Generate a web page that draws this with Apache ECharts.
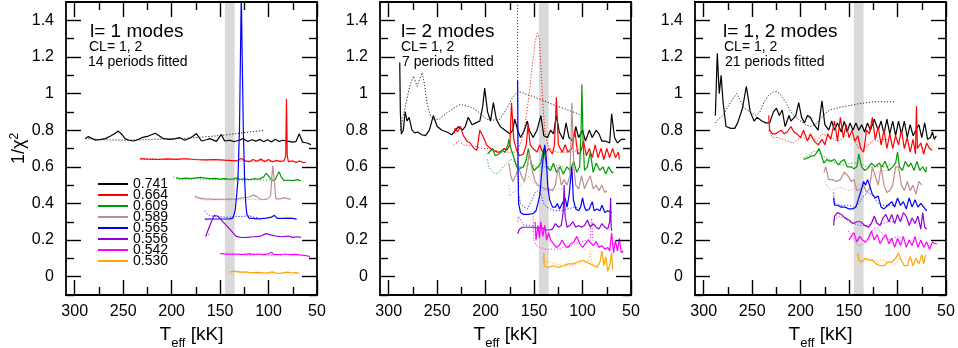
<!DOCTYPE html>
<html><head><meta charset="utf-8">
<script src="https://cdn.jsdelivr.net/npm/echarts@6/dist/echarts.min.js"></script>
<style>html,body{margin:0;padding:0;background:#fff}#c{width:958px;height:348px}</style>
</head><body><div id="c"></div>
<script>
// ---------- labels / ticks ----------
const masses = ['0.741','0.664','0.609','0.589','0.565','0.556','0.542','0.530'];
const lineColors = ['#000000','#ff0000','#009a00','#bc8f8f','#0000ff','#9400d3','#ff00ff','#ffa500'];
const xTicks = [300,250,200,150,100,50];
const xMinorTicks = [275,225,175,125,75];
const yTicks = [0,0.2,0.4,0.6,0.8,1,1.2,1.4];
const yMinorTicks = [-0.1,0.1,0.3,0.5,0.7,0.9,1.1,1.3];
const bandRange = [135,145];
const panelTitles = ['l= 1 modes','l= 2 modes','l= 1, 2 modes'];
const clLabel = 'CL= 1, 2';
const fittedLabels = ['14 periods fitted','7 periods fitted','21 periods fitted'];

// ---------- panel 1 : l = 1 ----------
const l1_741 = [[289,0.754],[286,0.765],[284,0.772],[279,0.746],[274,0.748],[268.5,0.754],[263,0.768],[259,0.78],[255,0.795],[251,0.775],[248,0.754],[244,0.745],[239.4,0.741],[235,0.748],[230.8,0.759],[224,0.768],[217,0.783],[213,0.77],[208.6,0.754],[201.7,0.75],[196,0.754],[191.5,0.759],[186.3,0.745],[180,0.76],[174.4,0.781],[169.2,0.741],[164,0.748],[160.7,0.754],[153.8,0.739],[148.7,0.777],[145.3,0.741],[140,0.745],[136,0.738],[133.3,0.741],[130,0.745],[126.5,0.754],[121.4,0.738],[117,0.748],[113,0.74],[109,0.75],[105,0.737],[101,0.748],[97,0.736],[93,0.75],[89,0.738],[85.4,0.745],[80.3,0.74],[75,0.735],[71.7,0.738],[68.3,0.78],[65,0.735],[60,0.73],[56.3,0.72]];
const l1_741d = [[289,0.754],[270,0.748],[250,0.745],[230,0.748],[210,0.752],[191.5,0.754],[175,0.76],[160,0.766],[148,0.772],[135,0.78],[120,0.79],[104,0.8]];
const l1_664 = [[232.4,0.645],[225,0.642],[215,0.64],[205,0.643],[195,0.641],[185,0.644],[175,0.64],[165,0.638],[155,0.64],[145,0.636],[133.3,0.632],[128,0.645],[124,0.632],[120,0.628],[116,0.64],[112,0.63],[108,0.642],[104,0.628],[100,0.64],[96,0.626],[92,0.636],[88,0.63],[84,0.632],[82.3,0.66],[81.5,0.97],[80.7,0.66],[79.5,0.628],[75,0.632],[71.7,0.624],[68,0.632],[64,0.622],[61.4,0.625]];
const l1_664d = [[232,0.64],[220,0.645],[205,0.64],[190,0.645],[175,0.638],[160,0.636],[145,0.635],[130,0.632],[118,0.63],[105,0.635],[95,0.63],[88,0.628]];
const l1_609 = [[195,0.541],[190,0.535],[185,0.538],[180,0.536],[175,0.54],[170,0.542],[165,0.538],[160,0.535],[155,0.537],[150,0.533],[145,0.535],[140,0.532],[136,0.534],[133,0.54],[130,0.532],[125,0.534],[120,0.53],[115,0.535],[110,0.532],[105,0.545],[102.5,0.565],[100.8,0.575],[98.5,0.54],[96,0.525],[93,0.53],[91,0.555],[89,0.572],[87,0.545],[84,0.525],[80,0.528],[75,0.525],[70,0.53],[66.5,0.524]];
const l1_609d = [[198,0.545],[193,0.532],[185,0.532],[175,0.535],[165,0.532],[155,0.53],[145,0.53],[135,0.53],[125,0.528],[115,0.53],[105,0.528],[98,0.528]];
const l1_589 = [[176,0.44],[172,0.43],[165,0.425],[155,0.422],[145,0.423],[140,0.425],[133.3,0.423],[127,0.43],[120,0.435],[116,0.445],[112.7,0.44],[109,0.425],[106,0.42],[101,0.425],[98,0.44],[96.5,0.55],[95.7,0.605],[94.5,0.55],[93,0.45],[92.3,0.425],[88,0.425],[84,0.432],[82,0.44],[79,0.425],[76.9,0.424]];
const l1_589d = [[176,0.43],[168,0.42],[158,0.418],[148,0.42],[138,0.42],[128,0.42],[118,0.422],[110,0.42]];
const l1_565 = [[165.8,0.314],[160,0.315],[152,0.315],[145,0.315],[140,0.316],[136.8,0.32],[134.5,0.36],[132.8,0.45],[131.6,0.53],[130,0.8],[129,1.2],[128.1,1.55],[127.2,1.2],[126,0.8],[124.7,0.53],[123.5,0.4],[122.4,0.34],[120,0.32],[118,0.314],[110,0.316],[102,0.32],[97,0.325],[94,0.335],[91,0.318],[85,0.318],[80,0.32],[78,0.328],[75,0.318],[71,0.314]];
const l1_565d = [[165.8,0.36],[164,0.345],[160,0.332],[155,0.33],[150,0.327],[145,0.325],[140,0.325],[135,0.33],[130,0.328],[125,0.33],[120,0.333],[115,0.325],[110,0.322]];
const l1_556 = [[164.8,0.22],[162,0.26],[159,0.3],[156,0.335],[154.5,0.342],[152,0.33],[148,0.305],[145.3,0.29],[140,0.26],[136,0.235],[133.3,0.22],[128,0.214],[123,0.215],[115,0.218],[108,0.222],[102.5,0.235],[98,0.228],[92.3,0.222],[86,0.218],[80,0.222],[75,0.215],[70,0.218],[66.5,0.215]];
const l1_556d = [[165,0.222],[163,0.228],[161,0.232]];
const l1_542 = [[149.4,0.127],[145,0.124],[140,0.123],[135,0.124],[130,0.122],[125,0.122],[120,0.125],[115,0.122],[110,0.124],[105,0.12],[100,0.125],[97,0.134],[95,0.122],[93,0.13],[88,0.12],[83,0.124],[78,0.12],[72,0.122],[66,0.118],[61,0.115],[57.3,0.11]];
const l1_542d = [[150,0.125],[140,0.12],[130,0.12],[120,0.118],[110,0.12],[100,0.118],[90,0.12],[85,0.118]];
const l1_530 = [[140,0.024],[136,0.03],[132,0.028],[128,0.025],[124,0.026],[120,0.024],[115,0.022],[110,0.024],[105,0.02],[100,0.022],[96,0.026],[92,0.02],[88,0.018],[84,0.022],[80,0.025],[76,0.02],[72,0.022],[68.3,0.02]];
const l1_530d = [[140,0.028],[132,0.025],[124,0.022],[115,0.02],[105,0.018],[98,0.014],[95,0.022],[90,0.016]];

// ---------- panel 2 : l = 2 ----------
const l2_741 = [[288.6,1.17],[288,0.9],[287,0.78],[285,0.8],[283,0.9],[281,0.85],[279,0.87],[276,0.8],[273,0.785],[270,0.79],[266,0.775],[262,0.77],[258,0.8],[254,0.88],[250,0.82],[245,0.8],[240,0.79],[235,0.775],[231,0.8],[228,0.82],[224,0.8],[221,0.82],[218,0.87],[214,0.83],[210,0.84],[206,0.85],[203,0.93],[201,1.03],[198,0.9],[195,0.85],[192,0.95],[189,0.86],[185,0.82],[180,0.8],[175,0.78],[172,0.8],[170,0.86],[167,0.8],[164,0.76],[160,0.8],[157,0.85],[155,0.8],[151,0.76],[147,0.8],[143,0.88],[140,0.77],[136,0.76],[133,0.8],[130,0.78],[127,0.88],[124,0.79],[120,0.75],[117,0.84],[114,0.76],[110,0.74],[107,0.82],[104,0.76],[100,0.8],[97,0.74],[93,0.8],[90,0.76],[86,0.8],[83,0.78],[80,0.74],[76,0.74],[72,0.73],[70,0.89],[67,0.76],[64,0.73],[60,0.75],[56,0.75]];
const l2_741d = [[288,0.8],[285,0.88],[282.9,0.93],[280,1.0],[277.7,1.05],[274.3,1.095],[270.8,1.04],[268,1.08],[265.7,1.113],[263,1.05],[260.6,0.95],[257,0.88],[253.8,0.86],[248,0.86],[240,0.895],[233,0.92],[226.4,0.94],[220,0.935],[212.7,0.92],[205,0.89],[199,0.86],[192,0.855],[185.3,0.86],[178,0.92],[172,0.98],[166.5,1.013],[157,0.995],[147.6,0.977],[139,0.96],[130.6,0.94],[120,0.92],[110,0.9],[103,0.886]];
const l2_664 = [[233,0.78],[231.5,0.81],[229,0.79],[226,0.82],[223,0.77],[219,0.74],[216,0.73],[212,0.7],[209,0.69],[206,0.8],[203,0.77],[199,0.72],[195,0.7],[192,0.69],[188,0.68],[185,0.68],[181,0.7],[178,0.69],[175,0.72],[173.3,0.95],[171,0.75],[168,0.69],[165,0.66],[161,0.67],[158,0.72],[156.3,0.83],[154,0.72],[151,0.7],[147,0.68],[144,0.72],[142,0.69],[139,0.67],[135,0.7],[131,0.67],[129,0.72],[127,0.98],[125,0.72],[121,0.68],[118,0.72],[115,0.68],[111,0.7],[108,0.8],[105,0.67],[102,0.68],[99,0.74],[96,0.66],[93,0.7],[90,0.65],[87,0.72],[84,0.65],[81,0.7],[78,0.64],[75,0.7],[72,0.65],[69,0.7],[66,0.65],[63,0.68],[62,0.64]];
const l2_664d = [[233,0.72],[228,0.74],[222,0.72],[216,0.715],[210,0.71],[203,0.7],[196,0.7],[190,0.69],[183,0.68],[176,0.68],[170,0.68],[166,0.7],[162,0.76],[158,0.88],[155,1.0],[152,1.15],[149,1.28],[146.5,1.33],[144.5,1.3],[143,1.15],[141,0.95],[139,0.8],[136,0.72],[132,0.69],[126,0.68],[120,0.68],[112,0.68],[105,0.69],[100,0.7]];
const l2_609 = [[198,0.67],[196,0.68],[193,0.7],[190,0.66],[186,0.67],[183,0.69],[180,0.68],[177,0.72],[176,0.75],[174,0.7],[172,0.67],[168,0.6],[165,0.59],[161,0.6],[158,0.64],[156,0.7],[153,0.62],[150,0.58],[146,0.6],[143,0.62],[140,0.7],[137,0.6],[133,0.58],[130,0.62],[127,0.57],[123,0.6],[120,0.56],[116,0.6],[113,0.58],[109,0.63],[106,0.57],[103,0.6],[101.5,0.8],[100.7,1.05],[99.5,0.75],[98,0.58],[95,0.6],[92,0.68],[89,0.57],[86,0.62],[82,0.58],[79,0.6],[76,0.56],[73,0.6],[70,0.57],[68,0.57]];
const l2_609d = [[198,0.64],[197,0.6],[194,0.58],[190,0.56],[186,0.57],[182,0.6],[178,0.62],[174,0.64],[170,0.63],[166,0.6],[160,0.6],[154,0.62],[148,0.6],[142,0.6],[136,0.6],[130,0.6],[124,0.61],[120,0.6]];
const l2_589 = [[176,0.62],[174,0.55],[172,0.52],[169,0.55],[166,0.6],[163,0.55],[160,0.52],[157,0.6],[155,0.68],[152,0.58],[149,0.52],[146,0.5],[142,0.49],[139,0.48],[135,0.48],[131,0.47],[128,0.5],[125,0.6],[122,0.5],[119,0.53],[116,0.5],[113,0.55],[111,0.95],[109,0.6],[107,0.5],[104,0.48],[101,0.55],[98,0.48],[95,0.52],[92,0.55],[89,0.48],[86,0.5],[83,0.47],[80,0.5],[77,0.46],[75,0.47]];
const l2_589d = [[176,0.5],[175,0.44],[172,0.46],[168,0.47],[164,0.5],[160,0.52],[156,0.55],[152,0.52],[148,0.5],[144,0.48],[140,0.47],[135,0.47],[130,0.47],[125,0.48],[120,0.48]];
const l2_565 = [[167,1.07],[166.5,0.6],[166,0.4],[164,0.35],[161,0.34],[156,0.34],[151,0.345],[148,0.36],[146,0.4],[144,0.45],[142,0.58],[140,0.68],[139,0.72],[137.5,0.65],[136,0.5],[134,0.42],[131,0.38],[128,0.38],[126,0.4],[123.7,0.37],[121,0.4],[118,0.43],[116,0.38],[114,0.44],[112.5,0.52],[111,0.6],[109.5,0.42],[107,0.37],[104,0.36],[102,0.38],[100,0.43],[98,0.38],[96,0.36],[93,0.37],[90,0.41],[88,0.36],[85,0.37],[82,0.36],[80,0.39],[77,0.35],[74,0.36],[72,0.35],[70,0.35]];
const l2_565d = [[167,1.55],[167,0.6],[166,0.45],[164,0.4],[160,0.38],[157,0.37],[155,0.38],[152,0.42],[149,0.46],[146,0.47],[143,0.45],[140,0.4],[137,0.38],[133,0.37],[128,0.36],[122,0.36],[115,0.37],[108,0.38],[102,0.37]];
const l2_556 = [[167,0.235],[165,0.26],[162,0.27],[158,0.27],[154,0.27],[150,0.27],[146,0.265],[143,0.27],[140,0.26],[137,0.255],[134,0.255],[131,0.26],[128,0.29],[125,0.27],[122,0.28],[120,0.35],[119,0.5],[118,0.33],[116,0.27],[113,0.28],[110,0.3],[107,0.27],[104,0.28],[101,0.27],[98,0.28],[95,0.31],[92,0.27],[89,0.29],[86,0.27],[83,0.26],[80,0.29],[77,0.27],[74,0.26],[72,0.3],[71,0.43],[70.5,0.27],[70,0.25]];
const l2_556d = [[167,0.3],[166,0.33],[163,0.3],[160,0.28],[155,0.28],[150,0.28]];
const l2_542 = [[149,0.3],[148,0.2],[146,0.28],[144.5,0.21],[143,0.3],[141,0.22],[139,0.28],[137,0.2],[135,0.24],[133,0.2],[130,0.18],[127,0.16],[124,0.17],[121,0.2],[118,0.17],[115,0.16],[112,0.18],[109,0.19],[106,0.22],[103,0.18],[100,0.16],[97,0.18],[94,0.2],[92,0.21],[89,0.17],[86,0.19],[83,0.16],[80,0.17],[77,0.15],[74,0.16],[72,0.14],[70,0.24],[68,0.13],[66,0.2],[64,0.14],[62,0.21],[60,0.13],[58,0.14]];
const l2_542d = [[151,0.33],[150.5,0.24],[150,0.2],[148,0.17],[144,0.16],[138,0.15],[132,0.15],[126,0.15],[120,0.16],[114,0.16],[108,0.18],[102,0.19],[96,0.2],[92,0.21],[90.5,0.32],[89.5,0.2],[87,0.19],[85,0.2]];
const l2_530 = [[140,0.13],[139.5,0.06],[138,0.07],[136,0.05],[134,0.06],[130,0.06],[125,0.05],[120,0.06],[115,0.07],[110,0.07],[105,0.08],[100,0.09],[96,0.08],[92,0.07],[88,0.06],[85,0.05],[82,0.08],[80,0.14],[78,0.06],[76,0.11],[74,0.03],[72,0.06],[70,0.13],[69,0.04]];
const l2_530d = [[141,0.11],[140,0.07],[138,0.09],[134,0.08],[128,0.07],[120,0.06],[112,0.06],[105,0.07],[98,0.08],[94,0.08],[92,0.14],[90.5,0.08],[89,0.07]];

// ---------- panel 3 : l = 1, 2 ----------
const l12_741 = [[288,0.88],[286,1.22],[284,1.0],[282,1.1],[280,0.95],[277,0.82],[272,0.81],[268,0.81],[265,0.84],[260,0.92],[256,1.04],[252,0.9],[248,0.85],[245,0.87],[240,0.85],[236,0.84],[232,0.84],[228,0.9],[225,0.92],[222,0.88],[219,0.91],[216,0.82],[212,0.88],[210,0.85],[205,0.88],[202,0.95],[199,0.87],[196,0.84],[193,0.88],[190,0.87],[186,0.83],[182,0.8],[178,0.96],[175,0.83],[171,0.8],[168,0.85],[165,0.8],[162,0.84],[158,0.79],[155,0.85],[152,0.79],[149,0.84],[146,0.8],[143,0.84],[140,0.8],[137,0.83],[134,0.79],[131,0.84],[128,0.8],[124,0.86],[120,0.8],[117,0.85],[114,0.78],[111,0.86],[108,0.78],[105,0.85],[102,0.77],[99,0.85],[96,0.78],[93,0.85],[90,0.76],[87,0.83],[84,0.77],[81,0.8],[78,0.83],[75,0.76],[72,0.84],[69,0.75],[66,0.76],[64,0.79],[62,0.75],[60,0.77]];
const l12_741d = [[288,0.84],[285,0.86],[280,0.88],[275,0.93],[270,0.97],[266,1.0],[262,0.96],[258,0.92],[252,0.9],[246,0.88],[242,0.9],[238,0.95],[233,0.99],[228,1.01],[224,1.01],[220,0.99],[215,0.95],[210,0.9],[205,0.87],[200,0.85],[195,0.83],[190,0.82],[185,0.83],[180,0.86],[175,0.89],[170,0.91],[163,0.92],[155,0.93],[148,0.935],[140,0.945],[132,0.95],[124,0.955],[115,0.955],[108,0.955],[102,0.955]];
const l12_664 = [[233,0.88],[232,0.8],[229,0.78],[226,0.78],[223,0.79],[220,0.8],[217,0.78],[214,0.79],[210,0.82],[207,0.79],[204,0.78],[200,0.76],[197,0.8],[193,0.74],[190,0.78],[186,0.74],[182,0.72],[178,0.75],[175,0.72],[172,0.78],[169,0.75],[165,0.85],[162,0.74],[159,0.87],[156,0.76],[153,0.83],[150,0.76],[147,0.8],[144,0.74],[141,0.77],[138,0.7],[135,0.68],[132,0.8],[129,0.78],[126,0.87],[123,0.75],[120,0.82],[117,0.72],[114,0.8],[111,0.7],[108,0.78],[105,0.7],[102,0.77],[99,0.72],[96,0.8],[93,0.7],[90,0.76],[87,0.68],[84,0.75],[81.5,0.67],[80.5,0.93],[79.5,0.7],[76,0.73],[73,0.67],[70,0.73],[67,0.7],[64,0.69]];
const l12_664d = [[233,0.8],[229,0.76],[224,0.76],[218,0.75],[213,0.74],[208,0.73],[203,0.75],[198,0.76],[193,0.75],[188,0.76],[183,0.74],[178,0.78],[173,0.77],[168,0.76],[163,0.74],[158,0.75],[153,0.77],[148,0.76],[144,0.74],[140,0.7],[135,0.7],[130,0.72],[125,0.75],[120,0.74],[115,0.75],[110,0.75]];
const l12_609 = [[197,0.64],[195,0.65],[192,0.65],[189,0.66],[186,0.66],[183,0.68],[181,0.7],[179,0.67],[176,0.62],[173,0.64],[170,0.63],[168,0.62],[165,0.64],[161,0.61],[158,0.63],[155,0.64],[152,0.6],[148,0.6],[145,0.59],[142,0.6],[140,0.67],[137,0.6],[134,0.58],[131,0.59],[127,0.62],[123,0.6],[119,0.62],[116,0.6],[113,0.63],[109,0.58],[105,0.6],[102,0.62],[100,0.68],[98,0.6],[95,0.58],[92,0.63],[89,0.6],[86,0.62],[83,0.58],[80,0.63],[77,0.58],[74,0.6],[71,0.57],[70,0.6]];
const l12_609d = [[197,0.65],[192,0.66],[188,0.68],[183,0.685],[178,0.66],[173,0.65],[168,0.63],[163,0.62],[158,0.61],[153,0.61],[148,0.62],[143,0.62],[138,0.62],[133,0.6],[128,0.6],[123,0.6],[118,0.6],[113,0.6],[108,0.61]];
const l12_589 = [[176,0.57],[174,0.6],[171,0.53],[167,0.53],[163,0.52],[159,0.53],[155,0.57],[151,0.55],[148,0.52],[145,0.53],[142,0.47],[138,0.48],[135,0.5],[132,0.46],[129,0.48],[126,0.6],[123,0.55],[120,0.5],[117,0.6],[114,0.5],[111,0.46],[108,0.47],[105,0.5],[102,0.6],[99,0.6],[96,0.5],[93,0.47],[90,0.52],[87,0.47],[84,0.5],[81,0.45],[78,0.52],[75,0.5]];
const l12_589d = [[176,0.52],[172,0.49],[168,0.47],[164,0.48],[160,0.49],[155,0.48],[150,0.47],[145,0.48],[140,0.5],[135,0.5],[130,0.52],[125,0.55],[120,0.57],[115,0.58],[110,0.58]];
const l12_565 = [[166,0.43],[165,0.39],[162,0.39],[158,0.38],[154,0.38],[150,0.37],[146,0.37],[143,0.38],[140,0.43],[137,0.48],[135,0.52],[133,0.5],[131,0.53],[129,0.5],[126,0.45],[123,0.43],[120,0.44],[117,0.38],[114,0.37],[110,0.39],[106,0.41],[103,0.38],[100,0.43],[97,0.39],[94,0.41],[91,0.37],[88,0.43],[85,0.38],[82,0.42],[79,0.38],[76,0.4],[73,0.38],[71,0.38],[70,0.36]];
const l12_565d = [[166,0.46],[165,0.4],[160,0.39],[155,0.39],[150,0.39],[145,0.38],[140,0.4],[135,0.44],[130,0.46],[125,0.44],[120,0.4],[115,0.39],[110,0.39],[104,0.39]];
const l12_556 = [[166,0.28],[165,0.33],[162,0.35],[158,0.34],[154,0.32],[150,0.31],[146,0.29],[142,0.3],[138,0.3],[134,0.28],[130,0.27],[127,0.29],[124,0.33],[121,0.29],[118,0.28],[115,0.32],[112,0.34],[109,0.3],[106,0.34],[103,0.29],[100,0.34],[97,0.3],[94,0.35],[91,0.33],[88,0.28],[85,0.32],[82,0.29],[79,0.33],[76,0.26],[74,0.35],[72,0.27],[70,0.26]];
const l12_556d = [[166,0.31],[160,0.33],[155,0.32],[150,0.3],[145,0.29],[140,0.28],[135,0.28],[130,0.28],[125,0.31],[120,0.29],[115,0.29],[110,0.3],[104,0.3]];
const l12_542 = [[150,0.2],[148,0.22],[145,0.24],[142,0.19],[139,0.22],[136,0.2],[133,0.19],[130,0.21],[127,0.25],[124,0.2],[121,0.23],[118,0.18],[115,0.21],[112,0.23],[109,0.18],[106,0.21],[103,0.16],[100,0.21],[97,0.17],[94,0.22],[91,0.16],[88,0.2],[85,0.17],[82,0.22],[79,0.16],[76,0.2],[73,0.16],[70,0.19],[67,0.15],[64,0.19],[61,0.18],[59,0.18]];
const l12_542d = [[151,0.25],[148,0.23],[145,0.2],[140,0.17],[135,0.18],[130,0.21],[125,0.26],[122,0.27],[118,0.25],[114,0.22],[110,0.2],[105,0.21],[100,0.22],[95,0.21]];
const l12_530 = [[141,0.13],[140,0.09],[137,0.08],[133,0.1],[130,0.09],[126,0.09],[122,0.07],[118,0.06],[114,0.06],[110,0.08],[106,0.08],[102,0.1],[99,0.13],[96,0.09],[93,0.06],[90,0.06],[87,0.11],[84,0.06],[81,0.1],[78,0.07],[75,0.12],[73,0.07],[71,0.12]];
const l12_530d = [[141,0.12],[138,0.07],[134,0.1],[130,0.1],[126,0.09],[122,0.08],[118,0.09],[114,0.09],[110,0.08],[106,0.07],[102,0.07],[98,0.1],[95,0.08]];

const solidSets = [
  [l1_741,l1_664,l1_609,l1_589,l1_565,l1_556,l1_542,l1_530],
  [l2_741,l2_664,l2_609,l2_589,l2_565,l2_556,l2_542,l2_530],
  [l12_741,l12_664,l12_609,l12_589,l12_565,l12_556,l12_542,l12_530]
];
const dottedSets = [
  [l1_741d,l1_664d,l1_609d,l1_589d,l1_565d,l1_556d,l1_542d,l1_530d],
  [l2_741d,l2_664d,l2_609d,l2_589d,l2_565d,l2_556d,l2_542d,l2_530d],
  [l12_741d,l12_664d,l12_609d,l12_589d,l12_565d,l12_556d,l12_542d,l12_530d]
];

// ---------- layout ----------
const FONT = "'Liberation Sans', Arial, Helvetica, sans-serif";
const gridLefts = [66, 380, 695];
const titleX = [[90,89,88],[401,401,402],[723,724,725]];

const grids = gridLefts.map(l => ({left:l, top:2, width:251, height:293, containLabel:false, outerBoundsMode:'none'}));
const xAxes = [], yAxes = [];
gridLefts.forEach((_, g) => {
  [['bottom',true],['bottom',false],['top',true],['top',false]].forEach(([pos, major]) => {
    const ax = {
      type:'value', gridIndex:g, position:pos, inverse:true, min:50, max:309, z:10,
      axisLine:{show:major, onZero:false, lineStyle:{color:'#000', width:1.8}},
      axisTick:{show:true, inside:true, length:major?15:8, customValues: major?xTicks:xMinorTicks,
                lineStyle:{color:'#000', width:1.4}},
      axisLabel:{show: major && pos==='bottom', customValues:xTicks, margin:9, fontSize:16,
                 color:'#000', fontFamily:FONT},
      splitLine:{show:false}
    };
    if (major && pos==='bottom') {
      ax.name = '{a|T}{b|eff}{a| [kK]}';
      ax.nameLocation = 'middle';
      ax.nameGap = 25;
      ax.nameTextStyle = {fontFamily:FONT, color:'#000',
        rich:{a:{fontSize:19, lineHeight:22, verticalAlign:'top', fontFamily:FONT, color:'#000'},
              b:{fontSize:13, lineHeight:13, padding:[12,0,0,0], verticalAlign:'top', fontFamily:FONT, color:'#000'}}};
    }
    xAxes.push(ax);
  });
  [['left',true],['left',false],['right',true],['right',false]].forEach(([pos, major]) => {
    const ax = {
      type:'value', gridIndex:g, position:pos, min:-0.1, max:1.5, z:10,
      axisLine:{show:major, onZero:false, lineStyle:{color:'#000', width:1.8}},
      axisTick:{show:true, inside:true, length:major?15:8, customValues: major?yTicks:yMinorTicks,
                lineStyle:{color:'#000', width:1.4}},
      axisLabel:{show: major && pos==='left', customValues:yTicks, margin:12, fontSize:16,
                 color:'#000', fontFamily:FONT},
      splitLine:{show:false}
    };
    if (g===0 && major && pos==='left') {
      ax.name = '{a|1/χ}{s|2}';
      ax.nameLocation = 'middle';
      ax.nameRotate = 90;
      ax.nameGap = 36;
      ax.nameTextStyle = {fontFamily:FONT, color:'#000',
        rich:{a:{fontSize:18, lineHeight:20, fontFamily:FONT, color:'#000'},
              s:{fontSize:12, lineHeight:12, verticalAlign:'top', fontFamily:FONT, color:'#000'}}};
    }
    yAxes.push(ax);
  });
});

const series = [];
gridLefts.forEach((_, g) => {
  series.push({type:'line', name:'band'+g, xAxisIndex:4*g, yAxisIndex:4*g, data:[], z:1, silent:true,
    markArea:{silent:true, itemStyle:{color:'#d9d9d9'}, data:[[{xAxis:bandRange[1]},{xAxis:bandRange[0]}]]}});
  masses.forEach((m, i) => {
    series.push({type:'line', name:m+' (dotted)', xAxisIndex:4*g, yAxisIndex:4*g, data:dottedSets[g][i],
      symbol:'none', showSymbol:false, z:2, silent:true, animation:false,
      itemStyle:{color:lineColors[i]}, lineStyle:{color:lineColors[i], width:1, type:[1.2,1.8], opacity:0.85}});
  });
  masses.forEach((m, i) => {
    series.push({type:'line', name:m, xAxisIndex:4*g, yAxisIndex:4*g, data:solidSets[g][i],
      symbol:'none', showSymbol:false, z:3, silent:true, animation:false,
      itemStyle:{color:lineColors[i]}, lineStyle:{color:lineColors[i], width:1.2}});
  });
});

const titles = [];
gridLefts.forEach((_, g) => {
  titles.push({text:panelTitles[g], left:titleX[g][0], top:22, padding:0,
    textStyle:{fontSize:19, fontWeight:'normal', color:'#000', fontFamily:FONT}});
  titles.push({text:clLabel, left:titleX[g][1], top:40, padding:0,
    textStyle:{fontSize:14, fontWeight:'normal', color:'#000', fontFamily:FONT}});
  titles.push({text:fittedLabels[g], left:titleX[g][2], top:55, padding:0,
    textStyle:{fontSize:14, fontWeight:'normal', color:'#000', fontFamily:FONT}});
});

const chart = echarts.init(document.getElementById('c'), null, {renderer:'canvas'});
chart.setOption({
  animation:false,
  backgroundColor:'#fff',
  title:titles,
  legend:{data:masses, orient:'vertical', left:98, top:177, padding:0, itemWidth:30, itemHeight:2,
    itemGap:-3, selectedMode:false, icon:'rect',
    textStyle:{fontSize:14, color:'#000', fontFamily:FONT}},
  grid:grids,
  xAxis:xAxes,
  yAxis:yAxes,
  series:series
});
</script></body></html>
